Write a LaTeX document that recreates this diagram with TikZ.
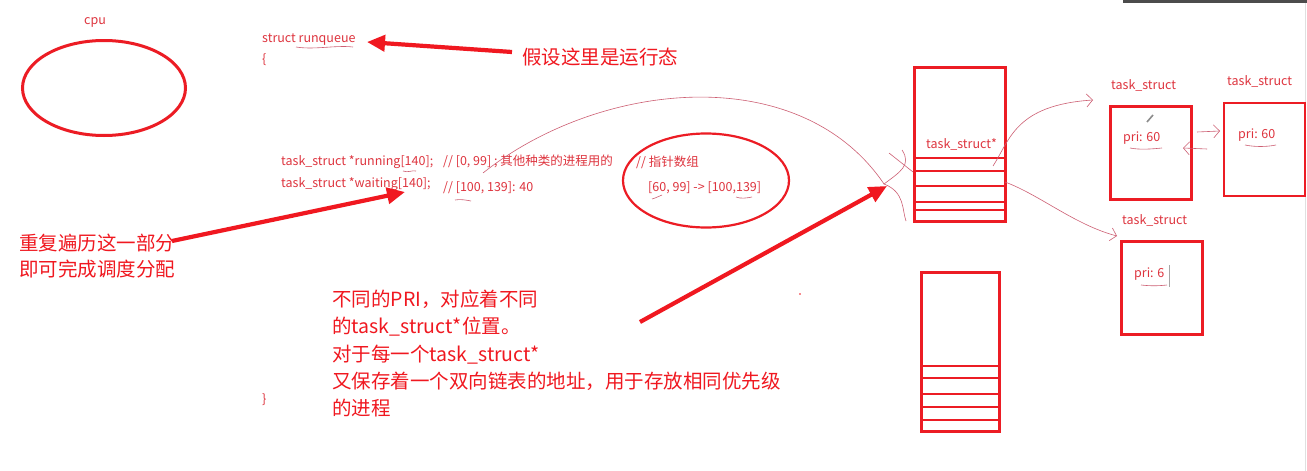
\documentclass[tikz,border=0pt]{standalone}
\usepackage{fontspec}
\setmainfont{Noto Sans CJK SC}
\usetikzlibrary{arrows.meta,shapes.geometric}
\definecolor{inkred}{RGB}{222,52,62}
\definecolor{penred}{RGB}{240,24,32}
\definecolor{boxred}{RGB}{236,28,36}
\definecolor{thinred}{RGB}{205,95,115}

\begin{document}
\begin{tikzpicture}[x=1pt, y=-1pt,
  code/.style={anchor=base west, inner sep=0pt, text=inkred, font=\fontsize{12.5}{14}\selectfont},
  note/.style={anchor=base west, inner sep=0pt, text=penred, font=\fontsize{19.5}{24}\selectfont},
  tsbox/.style={draw=boxred, line width=2.6pt, minimum width=81pt, minimum height=93pt, inner sep=0pt},
  bigarrow/.style={penred, line width=4.2pt, -{Triangle[length=18pt,width=16pt]}},
  scribble/.style={thinred, line width=0.6pt},
  hand/.style={scribble, -{Straight Barb[length=6pt,width=13pt]}},
]
  \useasboundingbox[fill=white] (0,0) rectangle (1307,471);
  \fill[black!70] (1123,0) rectangle (1307,2.5);
  \draw[black!12, line width=0.8pt] (1305.5,3) -- (1305.5,471);

  % cpu
  \node[code] (cpulabel) at (84,24) {cpu};
  \node[draw=boxred, line width=3pt, ellipse, minimum width=163pt, minimum height=95pt] (cpu) at (104,88) {};

  % struct runqueue
  \node[code] (rq)    at (262,42)  {struct runqueue};
  \node[code] (open)  at (262,63)  {\{};
  \node[code] (run)   at (281,165.5) {task\_struct *running[140];};
  \node[code] (wait)  at (281,187) {task\_struct *waiting[140];};
  \node[code] (runc)  at (443,165.5) {// [0, 99] ; 其他种类的进程用的};
  \node[code] (waitc) at (443,191) {// [100, 139]: 40};
  \node[code] (ptr)   at (636,166) {// 指针数组};
  \node[code] (range) at (648,191) {[60, 99] -> [100,139]};
  \node[code] (close) at (262,403) {\}};
  \node[draw=boxred, line width=2.2pt, ellipse, minimum width=166pt, minimum height=94pt] (ring) at (706,180.5) {};

  \draw[scribble] (296,47) .. controls (315,50) and (335,45) .. (353,47);
  \draw[scribble] (403,171) .. controls (408,173) and (412,170) .. (416,171);
  \draw[scribble] (455,200) .. controls (460,199) and (466,200) .. (471,201);
  \draw[scribble] (652,199) .. controls (656,198) and (659,196) .. (662,195);
  \draw[scribble] (736,197) .. controls (741,199) and (747,198) .. (752,197);

  % notes
  \node[note] (state) at (522,64)  {假设这里是运行态};
  \node[note] (loop1) at (19,250)  {重复遍历这一部分};
  \node[note] (loop2) at (19,276)  {即可完成调度分配};
  \node[note] (pri1)  at (332,306) {不同的PRI，对应着不同};
  \node[note] (pri2)  at (332,333) {的task\_struct*位置。};
  \node[note] (pri3)  at (332,361) {对于每一个task\_struct*};
  \node[note] (pri4)  at (332,388) {又保存着一个双向链表的地址，用于存放相同优先级};
  \node[note] (pri5)  at (332,415) {的进程};
  \fill[penred] (800,294) circle (0.9pt);

  % priority arrays
  \draw[boxred, line width=3pt] (914,67) rectangle (1005,221);
  \foreach \y in {158,171,186,202,210}
    \draw[boxred, line width=2.4pt] (914,\y) -- (1005,\y);
  \node[code] (slot) at (926,148) {task\_struct*};
  \coordinate (row1) at (993,166);
  \coordinate (row2) at (1005,182);
  \coordinate (rowin) at (884,184);

  \draw[boxred, line width=3pt] (921,272) rectangle (999,431);
  \foreach \y in {366,378,394,407,420}
    \draw[boxred, line width=2.4pt] (921,\y) -- (999,\y);

  % task_struct boxes
  \node[code] (tsAl) at (1111,89)  {task\_struct};
  \node[code] (tsBl) at (1227,85)  {task\_struct};
  \node[code] (tsCl) at (1122,224) {task\_struct};
  \node[tsbox] (tsA) at (1151,153)   {};
  \node[tsbox] (tsB) at (1264.5,149.5) {};
  \node[tsbox] (tsC) at (1162,288)   {};
  \node[code] (priA) at (1123,141) {pri: 60};
  \node[code] (priB) at (1238,138) {pri: 60};
  \node[code] (priC) at (1134,277) {pri: 6};
  \draw[scribble] (1130,148) .. controls (1140,150) and (1152,149) .. (1162,148);
  \draw[scribble] (1245,145) .. controls (1255,147) and (1266,147) .. (1276,145);
  \draw[scribble] (1141,285) .. controls (1150,286) and (1158,286) .. (1167,285);
  \draw[black!35, line width=0.7pt] (1169,265) -- (1169,287);
  \draw[black!45, line width=1.6pt] (1147,122) -- (1153,115);

  % big arrows
  \coordinate (stateTail) at (512,52);
  \coordinate (rqTip)     at (367,42);
  \coordinate (loopTail)  at (172,241);
  \coordinate (waitTip)   at (405,192);
  \coordinate (priTail)   at (640,322);
  \coordinate (rowTip)    at (887,186);
  \draw[bigarrow] (stateTail) -- (rqTip);
  \draw[bigarrow] (loopTail) -- (waitTip);
  \draw[bigarrow] (priTail) -- (rowTip);

  % hand drawn strokes
  \draw[scribble] (483,173) .. controls (600,80) and (800,60) .. (rowin);
  \draw[scribble] (889,153) -- (913,172);
  \draw[scribble] (902,150) .. controls (912,165) and (900,172) .. (rowin)
    .. controls (905,192) and (902,210) .. (906,221);
  \draw[hand] (row1) .. controls (1010,140) and (1015,105) .. (1093,100);
  \draw[hand] (row2) .. controls (1040,195) and (1075,225) .. (1117,236);
  \draw[hand] (1197,132) -- (1220,131);
  \draw[hand] (1207,149) -- (1183,148);
\end{tikzpicture}
\end{document}
